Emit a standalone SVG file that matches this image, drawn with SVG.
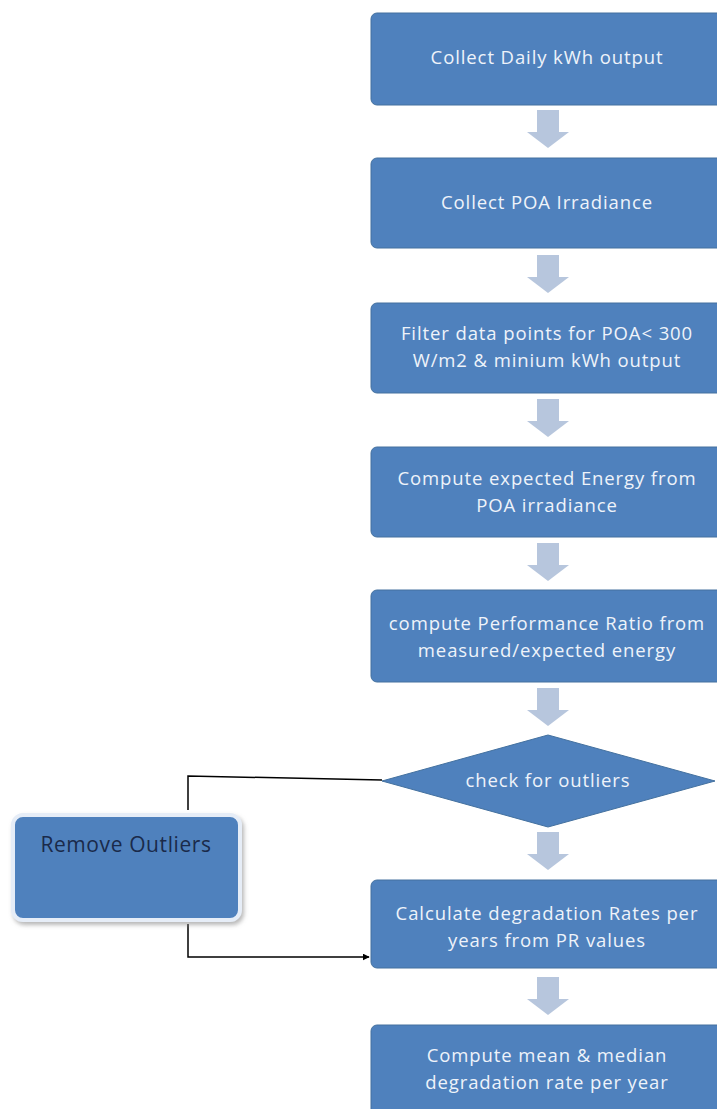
<svg xmlns="http://www.w3.org/2000/svg" width="717" height="1109" viewBox="0 0 717 1109">
<defs>
<style>
.box{fill:#4f81bd;stroke:#44719f;stroke-width:1}
.t{font-family:"Open Sans","Noto Sans",sans-serif;font-size:18.5px;letter-spacing:0.9px;fill:#eef3fa;text-anchor:middle}
.td{font-family:"Open Sans","Noto Sans",sans-serif;font-size:21px;letter-spacing:0.6px;fill:#1a2a4a;text-anchor:middle}
.arr{fill:#b7c6dd}
.ln{fill:none;stroke:#000;stroke-width:1.5}
</style>
<path id="dn" d="M-11,0 H11 V22 H21 L0,38 L-21,22 H-11 Z"/>
<marker id="ah" viewBox="0 0 10 10" refX="9" refY="5" markerWidth="7" markerHeight="7" markerUnits="userSpaceOnUse" orient="auto">
<path d="M0,0 L10,5 L0,10 Z" fill="#000"/>
</marker>
<filter id="sh" x="-10%" y="-10%" width="130%" height="130%">
<feDropShadow dx="2" dy="3" stdDeviation="2" flood-color="#888" flood-opacity="0.6"/>
</filter>
</defs>
<rect width="717" height="1109" fill="#fff"/>

<g id="connectors">
<g class="arr">
<use href="#dn" x="548" y="110"/>
<use href="#dn" x="548" y="255"/>
<use href="#dn" x="548" y="399"/>
<use href="#dn" x="548" y="543"/>
<use href="#dn" x="548" y="688"/>
<use href="#dn" x="548" y="832"/>
<use href="#dn" x="548" y="977"/>
</g>
<path class="ln" d="M382,780 L188,776 V810"/>
<path class="ln" d="M188,924 V957 H369" marker-end="url(#ah)"/>
</g>

<g id="n1"><rect class="box" x="371" y="13" width="352" height="92" rx="6"/>
<text class="t" x="547" y="64">Collect Daily kWh output</text></g>

<g id="n2"><rect class="box" x="371" y="158" width="352" height="90" rx="6"/>
<text class="t" x="547" y="209">Collect POA Irradiance</text></g>

<g id="n3"><rect class="box" x="371" y="303" width="352" height="90" rx="6"/>
<text class="t" x="547" y="340">Filter data points for POA&lt; 300</text>
<text class="t" x="547" y="367">W/m2 &amp; minium kWh output</text></g>

<g id="n4"><rect class="box" x="371" y="447" width="352" height="90" rx="6"/>
<text class="t" x="547" y="485">Compute expected Energy from</text>
<text class="t" x="547" y="512">POA irradiance</text></g>

<g id="n5"><rect class="box" x="371" y="590" width="352" height="92" rx="6"/>
<text class="t" x="547" y="630">compute Performance Ratio from</text>
<text class="t" x="547" y="657">measured/expected energy</text></g>

<g id="n6"><polygon class="box" points="548,735 715,781 548,827 382,781"/>
<text class="t" x="548" y="787">check for outliers</text></g>

<g id="n7"><rect class="box" x="371" y="880" width="352" height="88" rx="6"/>
<text class="t" x="547" y="920">Calculate degradation Rates per</text>
<text class="t" x="547" y="947">years from PR values</text></g>

<g id="n8"><rect class="box" x="371" y="1025" width="352" height="100" rx="6"/>
<text class="t" x="547" y="1062">Compute mean &amp; median</text>
<text class="t" x="547" y="1089">degradation rate per year</text></g>

<g id="n9"><rect x="13" y="815" width="227" height="105" rx="10" fill="#4f81bd" stroke="#e6edf7" stroke-width="4" filter="url(#sh)"/>
<text class="td" x="126" y="852">Remove Outliers</text></g>
</svg>
